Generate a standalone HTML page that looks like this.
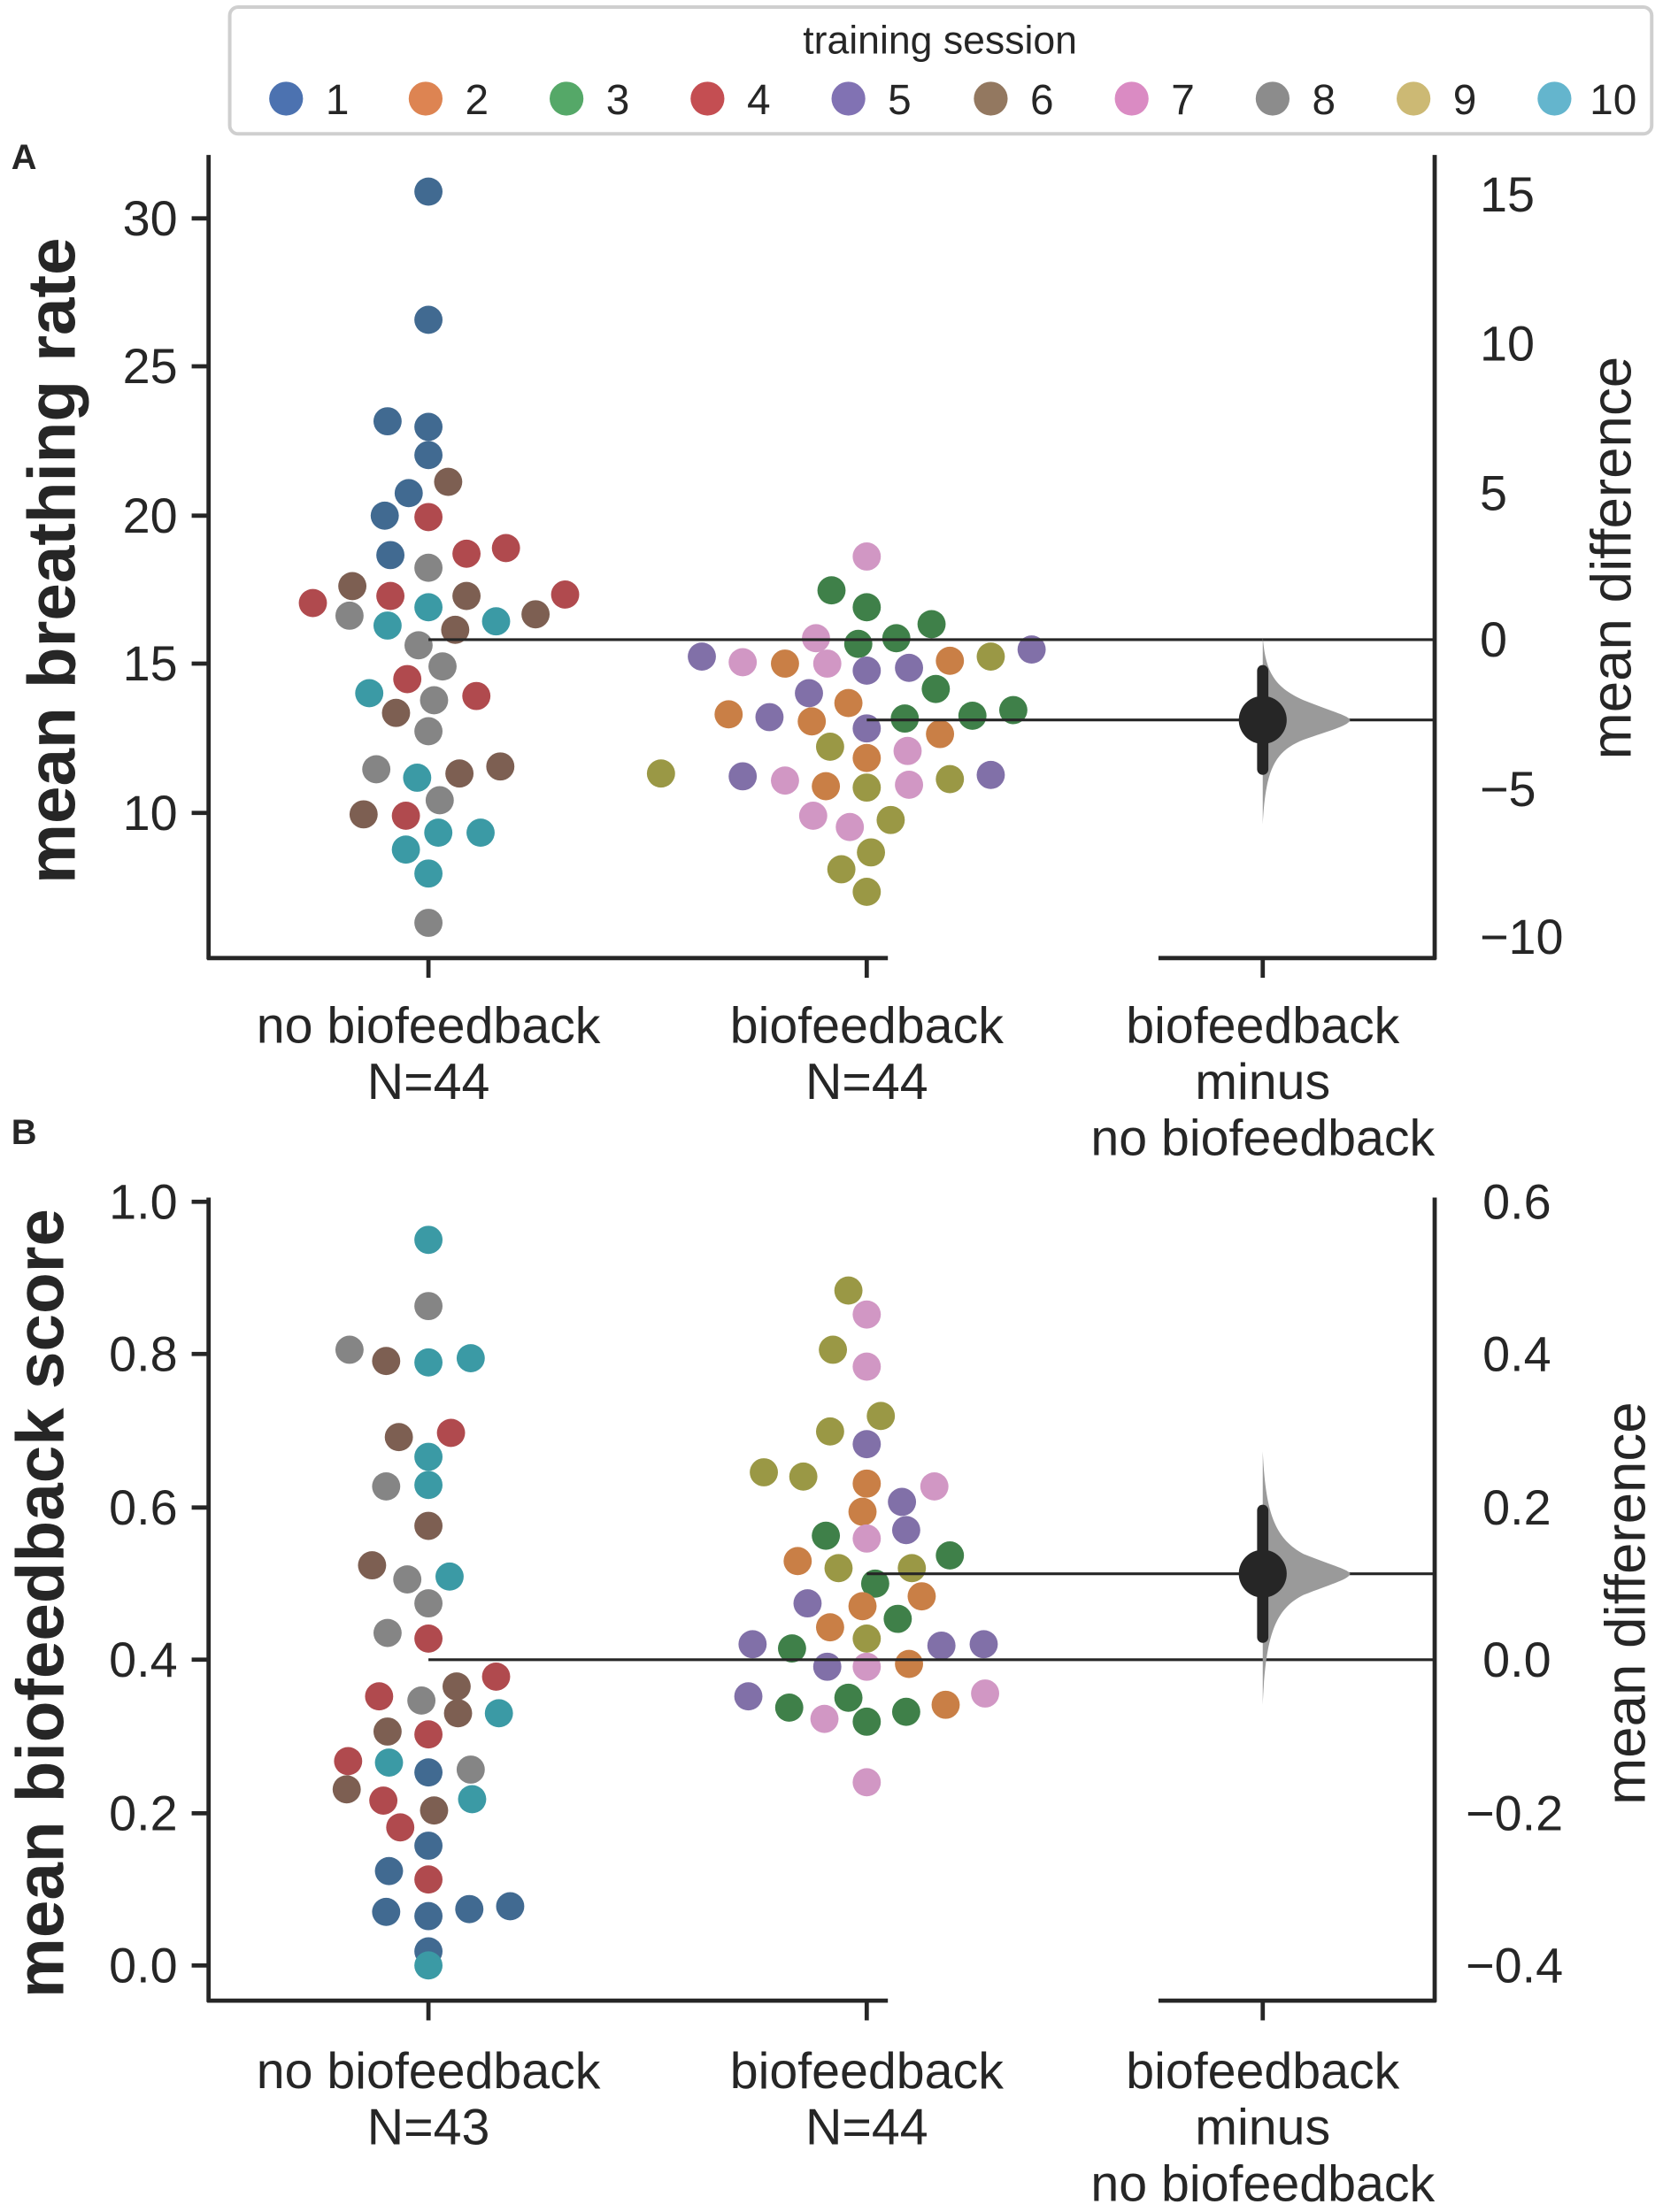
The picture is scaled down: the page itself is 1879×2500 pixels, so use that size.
<!DOCTYPE html>
<html><head><meta charset="utf-8"><style>
html,body{margin:0;padding:0;background:#fff}
svg{display:block}
text{font-family:"Liberation Sans",Arial,sans-serif;fill:#262626}
</style></head><body>
<svg width="1879" height="2500" viewBox="0 0 1180 1570" xmlns="http://www.w3.org/2000/svg">
<rect x="163" y="5" width="1009" height="90" rx="6" fill="#fff" stroke="#cfcfcf" stroke-width="2.5"/>
<text x="667" y="38" font-size="28" text-anchor="middle">training session</text>
<g font-size="30">
<circle cx="203" cy="70" r="12" fill="#4c72b0"/><text x="231" y="81">1</text>
<circle cx="302" cy="70" r="12" fill="#dd8452"/><text x="330" y="81">2</text>
<circle cx="402" cy="70" r="12" fill="#55a868"/><text x="430" y="81">3</text>
<circle cx="502" cy="70" r="12" fill="#c44e52"/><text x="530" y="81">4</text>
<circle cx="602" cy="70" r="12" fill="#8172b3"/><text x="630" y="81">5</text>
<circle cx="703" cy="70" r="12" fill="#937860"/><text x="731" y="81">6</text>
<circle cx="803" cy="70" r="12" fill="#da8bc3"/><text x="831" y="81">7</text>
<circle cx="903" cy="70" r="12" fill="#8c8c8c"/><text x="931" y="81">8</text>
<circle cx="1003" cy="70" r="12" fill="#ccb974"/><text x="1031" y="81">9</text>
<circle cx="1103" cy="70" r="12" fill="#64b5cd"/><text x="1128" y="81">10</text>
</g>
<text x="8" y="120" font-size="25" font-weight="bold">A</text>
<text x="8" y="812" font-size="25" font-weight="bold">B</text>

<g stroke="#262626" stroke-width="3" fill="none">
<line x1="148" y1="110" x2="148" y2="681"/>
<line x1="147" y1="680" x2="630" y2="680"/>
<line x1="822" y1="680" x2="1019" y2="680"/>
<line x1="1018" y1="110" x2="1018" y2="681"/>
<line x1="136" y1="155" x2="148" y2="155"/>
<line x1="136" y1="260" x2="148" y2="260"/>
<line x1="136" y1="366" x2="148" y2="366"/>
<line x1="136" y1="471" x2="148" y2="471"/>
<line x1="136" y1="577" x2="148" y2="577"/>
<line x1="304" y1="680" x2="304" y2="694"/>
<line x1="615" y1="680" x2="615" y2="694"/>
<line x1="896" y1="680" x2="896" y2="694"/>
<line x1="148" y1="850" x2="148" y2="1421"/>
<line x1="147" y1="1420" x2="630" y2="1420"/>
<line x1="822" y1="1420" x2="1019" y2="1420"/>
<line x1="1018" y1="850" x2="1018" y2="1421"/>
<line x1="136" y1="853" x2="148" y2="853"/>
<line x1="136" y1="961" x2="148" y2="961"/>
<line x1="136" y1="1070" x2="148" y2="1070"/>
<line x1="136" y1="1178" x2="148" y2="1178"/>
<line x1="136" y1="1287" x2="148" y2="1287"/>
<line x1="136" y1="1395" x2="148" y2="1395"/>
<line x1="304" y1="1420" x2="304" y2="1434"/>
<line x1="615" y1="1420" x2="615" y2="1434"/>
<line x1="896" y1="1420" x2="896" y2="1434"/>
</g>

<g font-size="35" text-anchor="end">
<text x="126" y="167">30</text><text x="126" y="272">25</text><text x="126" y="378">20</text><text x="126" y="483">15</text><text x="126" y="589">10</text>
</g>
<g font-size="35">
<text x="1050" y="150">15</text><text x="1050" y="256">10</text><text x="1050" y="362">5</text><text x="1050" y="466">0</text><text x="1050" y="572">−5</text><text x="1050" y="677">−10</text>
</g>
<g font-size="36" text-anchor="middle">
<text x="304" y="740">no biofeedback</text><text x="304" y="780">N=44</text>
<text x="615" y="740">biofeedback</text><text x="615" y="780">N=44</text>
<text x="896" y="740">biofeedback</text><text x="896" y="780">minus</text><text x="896" y="820">no biofeedback</text>
</g>
<text transform="translate(53,398) rotate(-90)" font-size="48" font-weight="bold" text-anchor="middle">mean breathing rate</text>
<text transform="translate(1157,396) rotate(-90)" font-size="40" text-anchor="middle">mean difference</text>

<g font-size="35" text-anchor="end">
<text x="126" y="865">1.0</text><text x="126" y="973">0.8</text><text x="126" y="1082">0.6</text><text x="126" y="1190">0.4</text><text x="126" y="1299">0.2</text><text x="126" y="1407">0.0</text>
</g>
<g font-size="35">
<text x="1052" y="865">0.6</text><text x="1052" y="973">0.4</text><text x="1052" y="1082">0.2</text><text x="1052" y="1190">0.0</text><text x="1040" y="1299">−0.2</text><text x="1040" y="1407">−0.4</text>
</g>
<g font-size="36" text-anchor="middle">
<text x="304" y="1482">no biofeedback</text><text x="304" y="1522">N=43</text>
<text x="615" y="1482">biofeedback</text><text x="615" y="1522">N=44</text>
<text x="896" y="1482">biofeedback</text><text x="896" y="1522">minus</text><text x="896" y="1562">no biofeedback</text>
</g>
<text transform="translate(45,1138) rotate(-90)" font-size="48" font-weight="bold" text-anchor="middle">mean biofeedback score</text>
<text transform="translate(1167,1138) rotate(-90)" font-size="40" text-anchor="middle">mean difference</text>

<g id="pa"></g>
<g id="pb"></g>

<g stroke="#262626" stroke-width="2">
<line x1="304" y1="454" x2="1018" y2="454"/>
<line x1="615" y1="511" x2="1018" y2="511"/>
<line x1="304" y1="1178" x2="1018" y2="1178"/>
<line x1="615" y1="1117" x2="1018" y2="1117"/>
</g>

<path d="M896,452 C898,478 905,488 925,497 C945,505 957,508 958,511 C957,515 945,518 925,525 C905,533 898,545 896,585 Z" fill="#9a9a9a"/>
<line x1="896" y1="476" x2="896" y2="546" stroke="#262626" stroke-width="8" stroke-linecap="round"/>
<circle cx="896" cy="511" r="17" fill="#262626"/>
<path d="M896,1030 C898,1075 905,1092 925,1103 C945,1111 957,1114 958,1117 C957,1121 945,1124 925,1132 C905,1142 898,1160 896,1210 Z" fill="#9a9a9a"/>
<line x1="896" y1="1072" x2="896" y2="1162" stroke="#262626" stroke-width="8" stroke-linecap="round"/>
<circle cx="896" cy="1117" r="17" fill="#262626"/>
</svg>
<script>
var C={1:"#416a91",2:"#c97f46",3:"#3f8049",4:"#b04a4e",5:"#8170a8",6:"#7d5f52",7:"#d197c4",8:"#858585",9:"#9a9845",10:"#3b9aa5"};
var A=[[304,136,1],[304,227,1],[275,299,1],[304,303,1],[304,323,1],[290,350,1],[318,342,6],[273,366,1],[304,367,4],[277,394,1],[331,393,4],[359,389,4],[304,403,8],[222,428,4],[250,416,6],[277,423,4],[331,423,6],[401,422,4],[248,437,8],[304,431,10],[275,444,10],[323,447,6],[352,441,10],[380,436,6],[297,458,8],[314,473,8],[289,482,4],[262,492,10],[308,497,8],[281,506,6],[338,494,4],[304,519,8],[267,546,8],[296,552,10],[326,549,6],[355,544,6],[312,568,8],[258,578,6],[288,579,4],[311,591,10],[341,591,10],[288,603,10],[304,620,10],[304,655,8],
[615,395,7],[590,419,3],[615,431,3],[579,453,7],[609,457,3],[636,453,3],[661,443,3],[498,466,5],[527,470,7],[557,471,2],[587,471,7],[615,476,5],[645,474,5],[674,469,2],[703,466,9],[732,461,5],[574,492,5],[602,499,2],[664,489,3],[517,507,2],[546,509,5],[576,512,2],[615,517,5],[642,510,3],[690,508,3],[719,504,3],[667,521,2],[589,530,9],[615,538,2],[644,533,7],[469,549,9],[527,551,5],[557,554,7],[586,558,2],[615,559,9],[645,557,7],[674,553,9],[703,550,5],[577,579,7],[603,587,7],[632,582,9],[618,605,9],[597,617,9],[615,633,9]];
var B=[[304,880,10],[304,927,8],[248,958,8],[274,966,6],[304,967,10],[334,964,10],[283,1020,6],[320,1017,4],[304,1034,10],[304,1054,10],[274,1055,8],[304,1083,6],[264,1111,6],[289,1121,8],[319,1119,10],[304,1138,8],[275,1159,8],[304,1163,4],[352,1190,4],[269,1204,4],[299,1207,8],[324,1197,6],[354,1216,10],[275,1229,6],[304,1231,4],[325,1216,6],[247,1250,4],[276,1251,10],[304,1258,1],[334,1256,8],[246,1270,6],[272,1278,4],[308,1285,6],[335,1277,10],[284,1297,4],[304,1310,1],[276,1328,1],[304,1334,4],[274,1357,1],[304,1360,1],[333,1355,1],[362,1353,1],[304,1385,1],[304,1395,10],
[602,916,9],[615,933,7],[591,958,9],[615,970,7],[625,1005,9],[589,1016,9],[615,1025,5],[542,1045,9],[570,1048,9],[615,1053,2],[663,1055,7],[612,1073,2],[640,1066,5],[586,1090,3],[643,1086,5],[615,1092,7],[566,1108,2],[595,1113,9],[647,1113,9],[674,1104,3],[621,1124,3],[654,1133,2],[573,1138,5],[612,1140,2],[637,1149,3],[589,1155,2],[615,1163,9],[534,1167,5],[562,1170,3],[668,1168,5],[698,1167,5],[587,1183,5],[615,1183,7],[645,1181,2],[531,1204,5],[602,1205,3],[560,1212,3],[671,1210,2],[699,1202,7],[585,1220,7],[615,1222,3],[643,1215,3],[615,1265,7]];
function draw(id,arr){var g=document.getElementById(id),s="";arr.forEach(function(p){s+='<circle cx="'+p[0]+'" cy="'+p[1]+'" r="10" fill="'+C[p[2]]+'"/>';});g.innerHTML=s;}
draw("pa",A);draw("pb",B);
</script>
</body></html>
